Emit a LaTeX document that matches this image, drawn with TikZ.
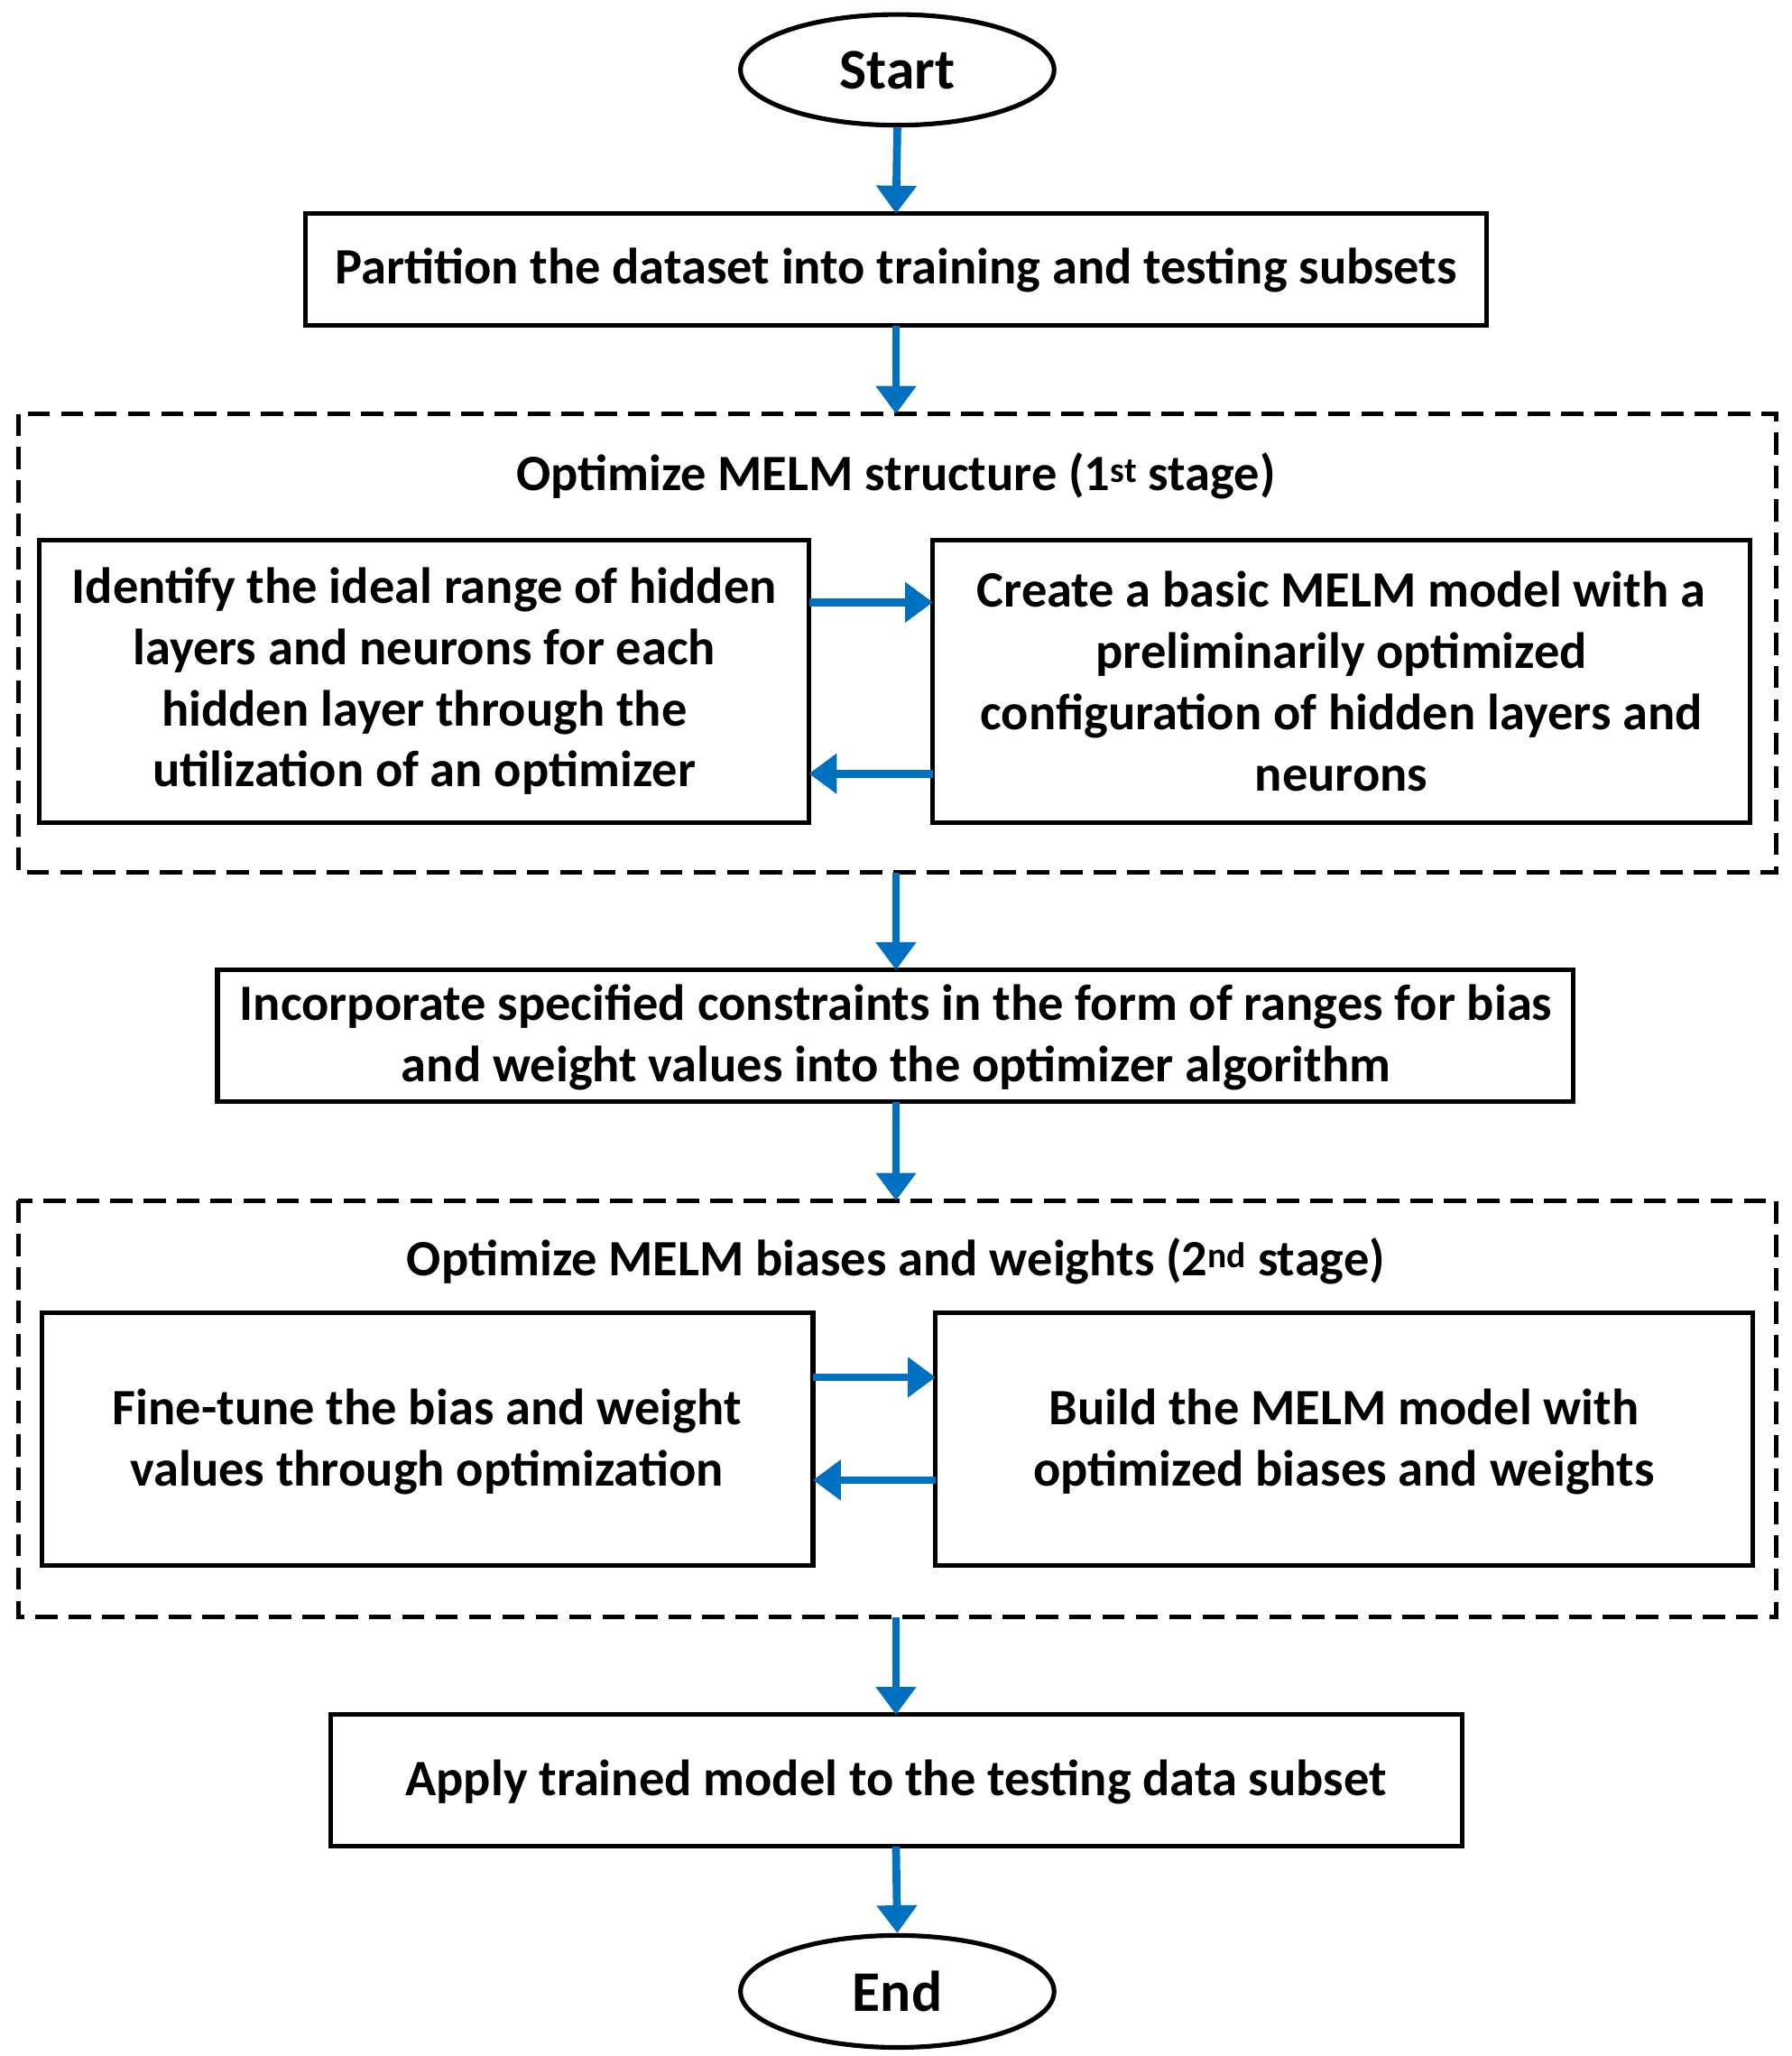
\documentclass[tikz,border=0pt]{standalone}
\usepackage{fontspec}
\setmainfont{Carlito}
\usetikzlibrary{shapes.geometric,arrows.meta}
\definecolor{ablue}{RGB}{0,112,192}
\begin{document}
\begin{tikzpicture}[x=0.05cm,y=-0.05cm,
  txt/.style={font=\bfseries\fontsize{55}{66}\selectfont,align=center},
  big/.style={font=\bfseries\fontsize{62}{70}\selectfont},
  bx/.style={draw,line width=5pt},
  dbx/.style={draw,line width=5pt,dash pattern=on 24pt off 12pt},
  arr/.style={ablue,line width=8.5pt,-{Triangle[length=30pt,width=42pt]}}]
\useasboundingbox (0,0) rectangle (1360,1560);
\node[draw,line width=5pt,ellipse,minimum width=11.9cm,minimum height=4.2cm,big] (start) at (681,53) {Start};
\draw[bx] (232,162) rectangle (1128,247);
\node[txt] (b1) at (680,205) {Partition the dataset into training and testing subsets};
\coordinate (b1t) at (680,162); \coordinate (b1b) at (680,247);
\draw[dbx] (14,314) rectangle (1348,662);
\coordinate (d1t) at (680,314); \coordinate (d1b) at (680,662);
\node[txt] (t1) at (680,361) {Optimize MELM structure (1\textsuperscript{st} stage)};
\draw[bx] (30,410) rectangle (614,624);
\node[txt] (l1) at (322,517) {Identify the ideal range of hidden\\layers and neurons for each\\hidden layer through the\\utilization of an optimizer};
\draw[bx] (708,410) rectangle (1328,624);
\node[txt] (r1) at (1018,517) {Create a basic MELM model with a\\preliminarily optimized\\configuration of hidden layers and\\neurons};
\coordinate (a1) at (614,457); \coordinate (a2) at (708,457);
\coordinate (a3) at (708,587); \coordinate (a4) at (614,587);
\draw[bx] (165,736) rectangle (1194,836);
\node[txt] (b2) at (680,787) {Incorporate specified constraints in the form of ranges for bias\\and weight values into the optimizer algorithm};
\coordinate (b2t) at (680,736); \coordinate (b2b) at (680,836);
\draw[dbx] (14,911) rectangle (1348,1227);
\coordinate (d2t) at (680,911); \coordinate (d2b) at (680,1227);
\node[txt] (t2) at (680,957) {Optimize MELM biases and weights (2\textsuperscript{nd} stage)};
\draw[bx] (32,996) rectangle (617,1188);
\node[txt] (l2) at (324,1094) {Fine-tune the bias and weight\\values through optimization};
\draw[bx] (710,996) rectangle (1330,1188);
\node[txt] (r2) at (1020,1094) {Build the MELM model with\\optimized biases and weights};
\coordinate (c1) at (617,1045); \coordinate (c2) at (710,1045);
\coordinate (c3) at (710,1123); \coordinate (c4) at (617,1123);
\draw[bx] (251,1301) rectangle (1110,1401);
\node[txt] (b3) at (680,1352) {Apply trained model to the testing data subset};
\coordinate (b3t) at (680,1301); \coordinate (b3b) at (680,1401);
\node[draw,line width=5pt,ellipse,minimum width=11.9cm,minimum height=4.25cm,big] (end) at (681,1511) {End};
\draw[arr] (start.south) -- (b1t);
\draw[arr] (b1b) -- (d1t);
\draw[arr] (a1) -- (a2);
\draw[arr] (a3) -- (a4);
\draw[arr] (d1b) -- (b2t);
\draw[arr] (b2b) -- (d2t);
\draw[arr] (c1) -- (c2);
\draw[arr] (c3) -- (c4);
\draw[arr] (d2b) -- (b3t);
\draw[arr] (b3b) -- (end.north);
\end{tikzpicture}
\end{document}
